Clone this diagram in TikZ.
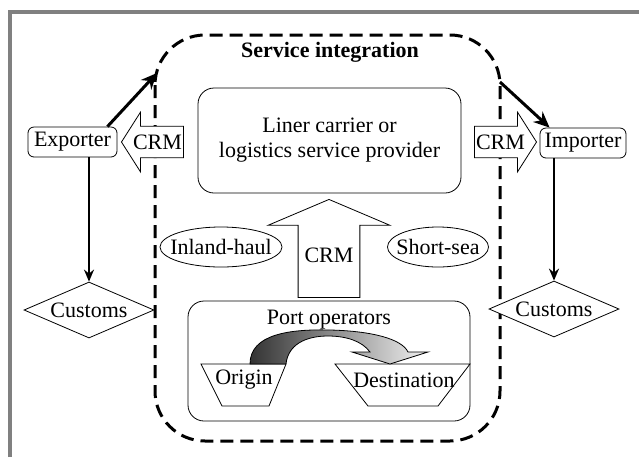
\documentclass[tikz,border=0pt]{standalone}
\usepackage{fontspec}
\setmainfont{Liberation Serif}
\usetikzlibrary{shapes.geometric,shapes.arrows,arrows.meta}

\begin{document}
\begin{tikzpicture}[x=0.5pt,y=-0.5pt,
    font=\fontsize{11}{12.5}\selectfont,
    box/.style={draw,rounded corners=3pt,fill=white,minimum height=15pt,inner sep=2pt},
    crm/.style={draw,fill=white,single arrow,single arrow head extend=7pt,
      single arrow head indent=0pt,single arrow tip angle=115,minimum height=31pt,
      inner ysep=4pt,inner xsep=0.5pt,anchor=tip},
    customs/.style={draw,fill=white,diamond,aspect=2.3,minimum width=65pt,
      minimum height=28pt,inner sep=0pt},
    mode/.style={draw,ellipse,inner xsep=-8pt,inner ysep=1pt,minimum height=20pt},
    flow/.style={line width=1.5pt,-{Stealth[length=8pt,width=7pt]}},
    down/.style={line width=1pt,-{Stealth[length=6pt,width=5pt]}}
  ]
  \useasboundingbox (0,0) rectangle (639,457);

  % Rahmen oben und links
  \draw[gray,line width=2pt] (10,457) -- (10,12) -- (639,12);

  % Service integration
  \draw[line width=1.5pt,dash pattern=on 6.5pt off 3.5pt,rounded corners=25pt]
    (155,35) rectangle (500,441);
  \node[font=\fontsize{11}{12.5}\selectfont\bfseries] (title) at (330,52) {Service integration};

  \node[draw,rounded corners=8pt,minimum width=131.5pt,minimum height=52.5pt,
    align=center] (liner) at (329.5,140.5) {Liner carrier or\\logistics service provider};

  % Kunden
  \node[box,minimum width=44.5pt] (exporter) at (72.5,142) {Exporter};
  \node[box,minimum width=43pt] (importer) at (583,143) {Importer};

  % CRM
  \node[crm,shape border rotate=180] (crmL) at (121,142) {CRM};
  \node[crm] (crmR) at (537,142) {CRM};
  \node[crm,shape border rotate=90,minimum height=49pt,single arrow head extend=15pt,
    single arrow tip angle=134,inner xsep=3pt] (crmUp) at (329,199) {CRM};

  \node[mode,minimum width=61pt] (inland) at (221,247) {Inland-haul};
  \node[mode,minimum width=50.5pt] (shortsea) at (438,247) {Short-sea};

  % Zoll
  \node[customs] (custL) at (89,310) {Customs};
  \node[customs] (custR) at (554,309) {Customs};

  % Hafen
  \node[draw,rounded corners=8pt,minimum width=141pt,minimum height=60pt] (port) at (329,361) {};
  \node[below=1pt] (portlbl) at (port.north) {Port operators};
  \draw (201,364) -- (286,364) -- (269,406) -- (222,406) -- cycle;
  \draw (335,364) -- (470,364) -- (438,406) -- (368,406) -- cycle;
  \node (origin) at (244,380) {Origin};
  \node (dest) at (404,380) {Destination};
  \shade[left color=black!80,right color=black!5,draw=black,line width=0.4pt]
    (250,364) .. controls (250,334) and (290,329) .. (330,330)
    .. controls (372,331) and (402,339) .. (408,352) -- (428,352) -- (390,364)
    -- (352,352) -- (370,352) .. controls (362,341) and (346,336) .. (328,336)
    .. controls (305,336) and (288,345) .. (286,364) -- cycle;

  % Verbindungen
  \coordinate (gateL) at (157,73);
  \coordinate (gateR) at (500,82);
  \draw[flow] ([xshift=-5pt]exporter.north east) -- (gateL);
  \draw[flow] (gateR) -- ([xshift=5pt]importer.north west);
  \draw[down] (exporter.south -| custL.north) -- (custL.north);
  \draw[down] (importer.south -| custR.north) -- (custR.north);
\end{tikzpicture}
\end{document}
